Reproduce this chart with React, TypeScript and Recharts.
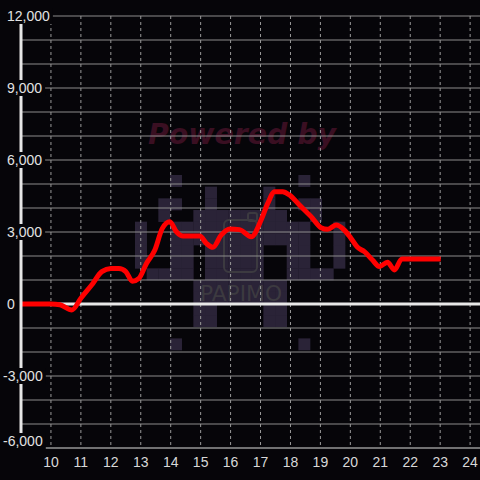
import React from 'react';
import { LineChart, Line, XAxis, YAxis, CartesianGrid, ReferenceLine } from 'recharts';

// hour of day -> value
const hours = [
  9, 9.5, 10, 10.3, 10.7, 11, 11.36, 11.7, 12, 12.27, 12.5, 12.72, 12.94, 13.19, 13.47, 13.72,
  13.97, 14.19, 14.41, 14.97, 15.19, 15.41, 15.69, 15.97, 16.3, 16.69, 17.02, 17.24, 17.47,
  17.74, 17.97, 18.3, 18.69, 19.02, 19.24, 19.52, 19.8, 20.02, 20.24, 20.47, 20.74, 20.97,
  21.24, 21.47, 21.72, 23.02,
];
const values = [
  0, 0, 0, -30, -250, 240, 790, 1350, 1480, 1480, 1350, 950, 1070, 1690, 2250, 3150,
  3430, 3010, 2830, 2830, 2530, 2360, 2880, 3130, 3100, 2800, 3500, 4190, 4680,
  4680, 4540, 4125, 3640, 3180, 3110, 3290, 3080, 2740, 2360, 2180, 1830, 1560,
  1740, 1420, 1875, 1875,
];

const xTicks = [10, 11, 12, 13, 14, 15, 16, 17, 18, 19, 20, 21, 22, 23, 24];
const yTicks = [-6000, -3000, 0, 3000, 6000, 9000, 12000];
const yGrid = [
  -6000, -5000, -4000, -3000, -2000, -1000, 0, 1000, 2000, 3000, 4000, 5000, 6000,
  7000, 8000, 9000, 10000, 11000, 12000,
];

// pixel logo in the background
const logoRows = [
  '...#..........#...',
  '......#....#......',
  '..##..#....#..##..',
  '..#..########..#..',
  '#..############..#',
  '#..############..#',
  '#..##.#####..##..#',
  '#..##.#####..##..#',
  '.####.#####..####.',
  '.....########.....',
  '.....########.....',
  '.....##....##.....',
  '.....##....##.....',
  '..................',
  '...#..........#...',
];

const data = hours.map((h, i) => ({ h, v: values[i] }));

const BG = '#060509';
const FONT = '"Liberation Sans", Arial, sans-serif';

function charWidth(c: string) {
  if (c === ',') return 3.9;
  if (c === '-') return 4.7;
  return 7.8;
}

function YTick(props: any) {
  const { payload } = props;
  const y = Math.min(props.y, 441);
  const label = Number(payload.value).toLocaleString('en-US');
  const neg = payload.value < 0;
  const x0 = neg ? 3 : 7;
  const w = label.split('').reduce((s: number, c: string) => s + charWidth(c), 0);
  return (
    <g>
      <rect x={x0 - 2} y={y - 8} width={w + 5} height={16} fill={BG} />
      <text x={x0} y={y + 5} fill="#e2e2e2" fontSize={14} fontFamily={FONT} textAnchor="start">
        {label}
      </text>
    </g>
  );
}

function XTick(props: any) {
  const { x, payload } = props;
  return (
    <text x={x} y={467} fill="#d8d8d8" fontSize={14} fontFamily={FONT} textAnchor="middle">
      {payload.value}
    </text>
  );
}

function Watermark() {
  const cell = 11.67;
  const ox = 135;
  const oy = 175;
  const rects: any[] = [];
  logoRows.forEach((row, r) => {
    row.split('').forEach((c, col) => {
      if (c === '#') {
        rects.push(
          <rect key={`${r}-${col}`} x={ox + col * cell} y={oy + r * cell} width={cell + 0.3} height={cell + 0.3} fill="#2a2337" />
        );
      }
    });
  });
  return (
    <svg width={480} height={480} style={{ position: 'absolute', left: 0, top: 0 }}>
      <rect x={0} y={0} width={480} height={480} fill={BG} />
      {rects}
      <rect x={224} y={220} width={33} height={52} rx={5} fill="none" stroke="#3c3a40" strokeWidth={2} />
      <rect x={248} y={213} width={9} height={8} rx={2} fill="none" stroke="#3c3a40" strokeWidth={2} />
      <text x={200} y={301} fill="#3c3a40" fontSize={22} fontFamily='"DejaVu Sans", sans-serif' textLength={82} lengthAdjust="spacingAndGlyphs">
        PAPIMO
      </text>
      <text
        x={148}
        y={144}
        fill="#3a0f22"
        fontSize={28}
        fontWeight="bold"
        fontStyle="italic"
        fontFamily='"DejaVu Sans", sans-serif'
        textLength={188}
        lengthAdjust="spacingAndGlyphs"
      >
        Powered by
      </text>
    </svg>
  );
}

export default function App() {
  return (
    <div style={{ position: 'fixed', left: 0, top: 0, width: 480, height: 480, background: BG, overflow: 'hidden' }}>
      <Watermark />
      <div style={{ position: 'absolute', left: 0, top: 0 }}>
        <LineChart width={480} height={480} data={data} margin={{ top: 16, right: 0, left: 0, bottom: 0 }}>
          <CartesianGrid vertical={false} stroke="#8c8c8c" horizontalValues={yGrid} />
          <CartesianGrid horizontal={false} stroke="#9a9a9a" strokeDasharray="3 3" verticalValues={xTicks} />
          <XAxis
            dataKey="h"
            type="number"
            domain={[9, 24.33]}
            ticks={xTicks}
            allowDataOverflow
            height={32}
            axisLine={{ stroke: '#9a9a9a', strokeWidth: 1 }}
            tickLine={false}
            tick={<XTick />}
            interval={0}
          />
          <YAxis
            type="number"
            domain={[-6000, 12000]}
            ticks={yTicks}
            width={21}
            axisLine={{ stroke: '#e6e6e6', strokeWidth: 3 }}
            tickLine={false}
            tick={<YTick />}
            interval={0}
          />
          <ReferenceLine y={0} stroke="#e8e8e8" strokeWidth={3} />
          <Line
            type="monotone"
            dataKey="v"
            stroke="#ff0000"
            strokeWidth={5}
            dot={false}
            isAnimationActive={false}
            strokeLinejoin="round"
          />
        </LineChart>
      </div>
    </div>
  );
}
